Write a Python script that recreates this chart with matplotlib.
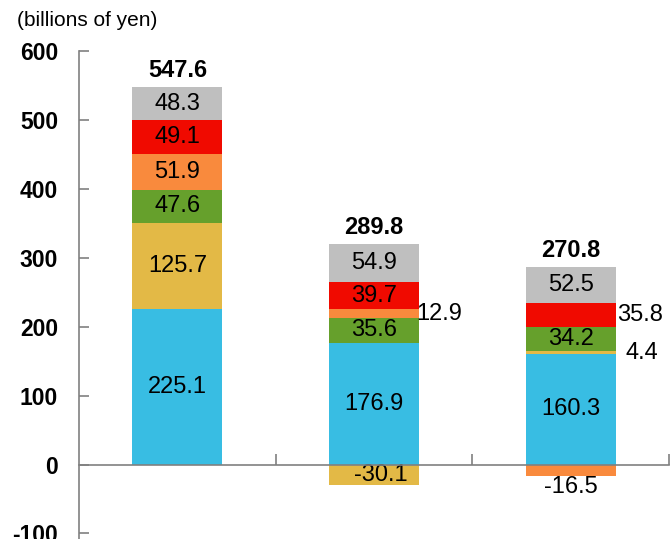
import matplotlib
matplotlib.use("Agg")
import matplotlib.pyplot as plt
import numpy as np

plt.rcParams['font.family'] = ['Liberation Sans', 'DejaVu Sans']

categories = ["A", "B", "C"]
blue = [225.1, 176.9, 160.3]
yellow = [125.7, -30.1, 4.4]
green = [47.6, 35.6, 34.2]
orange = [51.9, 12.9, -16.5]
red = [49.1, 39.7, 35.8]
gray = [48.3, 54.9, 52.5]
totals = [547.6, 289.8, 270.8]
yticks = [-100, 0, 100, 200, 300, 400, 500, 600]

series = [blue, yellow, green, orange, red, gray]
colors = ["#38BDE3", "#E3B946", "#66A02C", "#F98A3D", "#F00A00", "#BFBFBF"]

# label placement: ('in', dx) inside, ('right', dx) outside right, ('below', dx) below negative bar
placement = [
    [("in", 0), ("in", 0), ("in", 0)],
    [("in", 0), ("in", 0.035), ("right", 0.363)],
    [("in", 0), ("in", 0), ("in", 0)],
    [("in", 0), ("right", 0.33), ("below", 0)],
    [("in", 0), ("in", 0), ("right", 0.355)],
    [("in", 0), ("in", 0), ("in", 0)],
]

fig = plt.figure(figsize=(6.7, 5.39), dpi=100)
ax = fig.add_axes([0.118, 0.0, 0.8805, 0.9054])

x = np.arange(len(categories))
width = 0.457
lab_fs = 17
pos_base = np.zeros(len(categories))
neg_base = np.zeros(len(categories))
for si, (vals, col) in enumerate(zip(series, colors)):
    vals = np.array(vals)
    bottoms = np.where(vals >= 0, pos_base, neg_base)
    ax.bar(x, vals, width, bottom=bottoms, color=col, edgecolor='none', zorder=2)
    for i, v in enumerate(vals):
        mid = bottoms[i] + v / 2
        p, dx = placement[si][i]
        if p == "in":
            ax.text(x[i] + dx, mid, f"{v:.1f}", ha='center', va='center', fontsize=lab_fs, zorder=3)
        elif p == "right":
            ax.text(x[i] + dx, mid, f"{v:.1f}", ha='center', va='center', fontsize=lab_fs, zorder=3)
        elif p == "below":
            ax.text(x[i] + dx, bottoms[i] + v - 0.5, f"{v:.1f}", ha='center', va='top', fontsize=lab_fs, zorder=3)
    pos_base = pos_base + np.where(vals >= 0, vals, 0)
    neg_base = neg_base + np.where(vals < 0, vals, 0)

for i, t in enumerate(totals):
    ax.text(x[i], pos_base[i] + 7, f"{t:.1f}", ha='center', va='bottom', fontsize=17, fontweight='bold')

ax.set_xlim(-0.5, 2.5)
ax.set_ylim(-108, 600)
ax.set_yticks(yticks)
ax.set_yticklabels([str(t) for t in yticks], fontsize=16.5, fontweight='bold')
ax.tick_params(axis='y', direction='in', length=7, width=1.2, color='#808080', pad=15)
ax.set_xticks([0.5, 1.5, 2.5])
ax.set_xticklabels([])
ax.tick_params(axis='x', direction='in', length=8, width=1.2, color='#808080')

for s in ['top', 'right']:
    ax.spines[s].set_visible(False)
ax.spines['left'].set_color('#808080')
ax.spines['left'].set_linewidth(1.2)
ax.spines['bottom'].set_position(('data', 0))
ax.spines['bottom'].set_color('#808080')
ax.spines['bottom'].set_linewidth(1.2)
ax.spines['bottom'].set_zorder(4)

fig.text(17 / 670, 1 - 21 / 539, "(billions of yen)", fontsize=15, ha='left', va='center')

fig.savefig("out.png", dpi=100)
